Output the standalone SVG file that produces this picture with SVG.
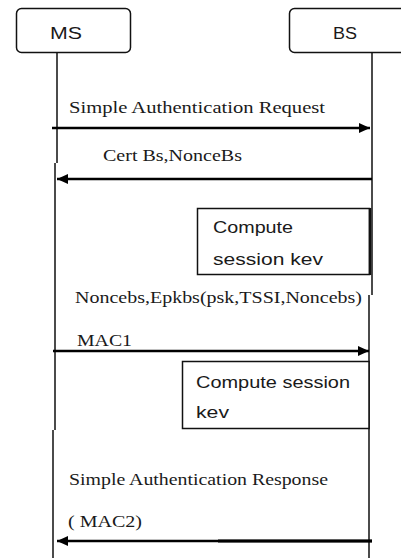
<svg xmlns="http://www.w3.org/2000/svg" width="401" height="558" viewBox="0 0 401 558">
<style>
.box{fill:#fff;stroke:#111;stroke-width:1.5}
.life{stroke:#111;stroke-width:1.5;fill:none}
.msg{stroke:#000;stroke-width:2.6;fill:none}
.serif{font-family:"Liberation Serif","Times New Roman",serif;font-size:16px;fill:#1a1a1a}
.sans{font-family:"Liberation Sans",Arial,sans-serif;fill:#1a1a1a}
</style>
<defs>
<marker id="ah" markerUnits="userSpaceOnUse" markerWidth="12" markerHeight="10" refX="11" refY="5" orient="auto">
<path d="M0,0 L11,5 L0,10 Z" fill="#000"/>
</marker>
</defs>
<rect width="401" height="558" fill="#fff"/>
<g id="lifelines">
<path class="life" d="M57,53 V163 M55,163 V430 M53,430 V558"/>
<path class="life" d="M372,53 V295 M369,295 V558"/>
</g>
<g id="MS">
<rect class="box" x="16.5" y="8.5" width="114" height="44" rx="5"/>
<text class="sans" x="50" y="39" font-size="16" textLength="32" lengthAdjust="spacingAndGlyphs">MS</text>
</g>
<g id="BS">
<rect class="box" x="289.5" y="8.5" width="130" height="44" rx="5"/>
<text class="sans" x="333" y="39" font-size="16" textLength="24" lengthAdjust="spacingAndGlyphs">BS</text>
</g>
<g id="compute1">
<rect class="box" x="197.5" y="208.5" width="172" height="66"/>
<line x1="370" y1="208" x2="370" y2="275" stroke="#111" stroke-width="2.5"/>
<text class="sans" x="213" y="233" font-size="16.5" textLength="80" lengthAdjust="spacingAndGlyphs">Compute</text>
<text class="sans" x="213" y="265" font-size="16.5" textLength="110" lengthAdjust="spacingAndGlyphs">session kev</text>
</g>
<g id="compute2">
<rect class="box" x="182.5" y="361.5" width="186.5" height="67"/>
<text class="sans" x="196" y="388" font-size="16.5" textLength="154" lengthAdjust="spacingAndGlyphs">Compute session</text>
<text class="sans" x="196" y="418" font-size="16.5" textLength="33" lengthAdjust="spacingAndGlyphs">kev</text>
</g>
<g id="connectors">
<line class="msg" x1="52" y1="128" x2="370" y2="128" marker-end="url(#ah)"/>
<line class="msg" x1="372" y1="179" x2="57" y2="179" marker-end="url(#ah)"/>
<line class="msg" x1="53" y1="351" x2="369" y2="351" marker-end="url(#ah)"/>
<line class="msg" x1="372" y1="541" x2="57" y2="541" marker-end="url(#ah)"/>
<line x1="372" y1="541" x2="218" y2="541" stroke="#000" stroke-width="3.2"/>
</g>
<g id="labels">
<text class="serif" x="69" y="113" textLength="256" lengthAdjust="spacingAndGlyphs">Simple  Authentication Request</text>
<text class="serif" x="103" y="161" textLength="139" lengthAdjust="spacingAndGlyphs">Cert Bs,NonceBs</text>
<text class="serif" x="75" y="303" textLength="287" lengthAdjust="spacingAndGlyphs">Noncebs,Epkbs(psk,TSSI,Noncebs)</text>
<text class="serif" x="77" y="346" textLength="55" lengthAdjust="spacingAndGlyphs">MAC1</text>
<text class="serif" x="69" y="485" textLength="259" lengthAdjust="spacingAndGlyphs">Simple Authentication Response</text>
<text class="serif" x="68" y="527" textLength="74" lengthAdjust="spacingAndGlyphs">( MAC2)</text>
</g>
</svg>
